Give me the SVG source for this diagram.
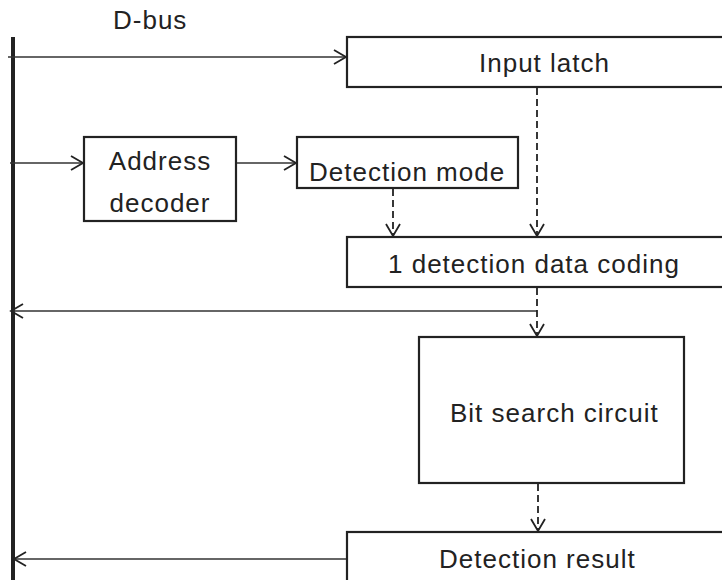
<svg xmlns="http://www.w3.org/2000/svg" width="722" height="580" viewBox="0 0 722 580">
<style>
.box{fill:#fff;stroke:#222;stroke-width:2.2}
.lbl{font-family:"Liberation Sans",Arial,sans-serif;font-size:26px;letter-spacing:1px;fill:#222}
.ln{fill:none;stroke:#333;stroke-width:1.7}
.dash{fill:none;stroke:#222;stroke-width:1.8;stroke-dasharray:7 4}
</style>
<defs>
<marker id="ah" viewBox="0 0 16 16" refX="13.5" refY="8" markerWidth="16" markerHeight="16" markerUnits="userSpaceOnUse" orient="auto">
<path d="M1.5,1 L13.5,8 L1.5,15" fill="none" stroke="#222" stroke-width="1.8"/>
</marker>
</defs>
<rect width="722" height="580" fill="#fff"/>
<g id="bus">
<rect x="11" y="37" width="4" height="543" fill="#222"/>
<text class="lbl" x="113" y="29">D-bus</text>
</g>
<g id="input-latch">
<rect class="box" x="347" y="37" width="400" height="50"/>
<text class="lbl" x="479" y="72">Input latch</text>
</g>
<g id="address-decoder">
<rect class="box" x="84" y="137" width="152" height="84"/>
<text class="lbl" x="160" y="170" text-anchor="middle">Address</text>
<text class="lbl" x="160" y="212" text-anchor="middle">decoder</text>
</g>
<g id="detection-mode">
<rect class="box" x="297" y="137" width="221" height="51"/>
<text class="lbl" x="309" y="181">Detection mode</text>
</g>
<g id="data-coding">
<rect class="box" x="347" y="237" width="400" height="50"/>
<text class="lbl" x="388" y="273">1 detection data coding</text>
</g>
<g id="bit-search">
<rect class="box" x="419" y="337" width="265" height="146"/>
<text class="lbl" x="450" y="422">Bit search circuit</text>
</g>
<g id="detection-result">
<rect class="box" x="347" y="532" width="400" height="60"/>
<text class="lbl" x="439" y="568">Detection result</text>
</g>
<g id="connectors">
<path class="ln" d="M8,57 H346" marker-end="url(#ah)"/>
<path class="ln" d="M10,163 H83" marker-end="url(#ah)"/>
<path class="ln" d="M237,163 H296" marker-end="url(#ah)"/>
<path class="dash" d="M537,88 V236" marker-end="url(#ah)"/>
<path class="dash" d="M393,189 V236" marker-end="url(#ah)"/>
<path class="ln" d="M537,311 H11" marker-end="url(#ah)"/>
<path class="dash" d="M537,288 V336" marker-end="url(#ah)"/>
<path class="dash" d="M538,484 V531" marker-end="url(#ah)"/>
<path class="ln" d="M346,559 H14" marker-end="url(#ah)"/>
</g>
</svg>
